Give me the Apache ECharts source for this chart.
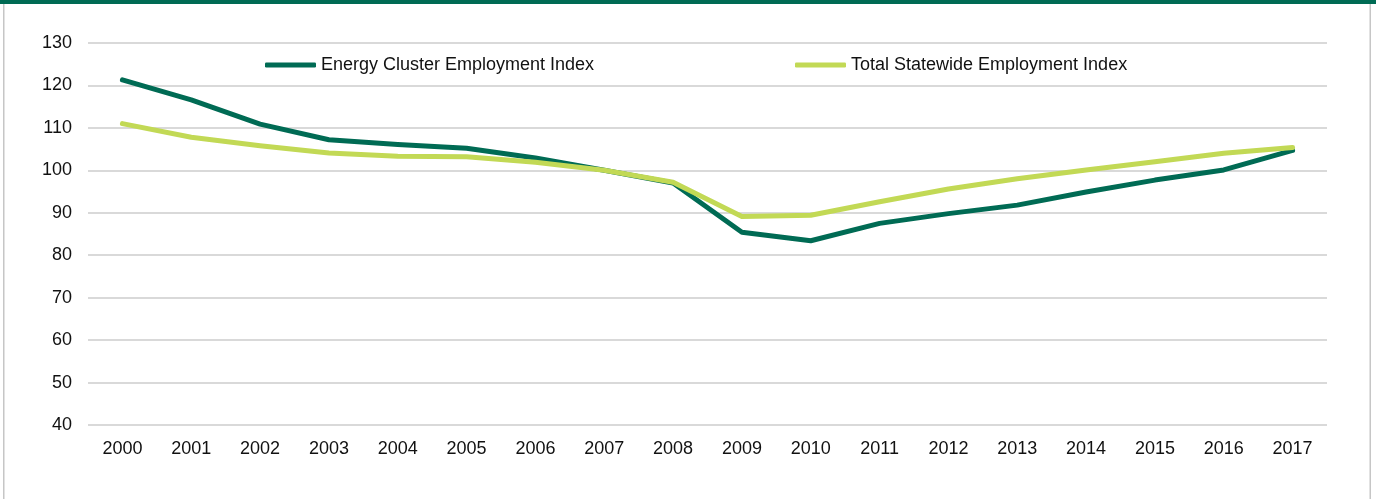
<!DOCTYPE html>
<html>
<head>
<meta charset="utf-8">
<script src="https://cdn.jsdelivr.net/npm/echarts@6/dist/echarts.min.js"></script>
<style>
html,body{margin:0;padding:0;background:#fff;}
#chart{width:1376px;height:499px;}
</style>
</head>
<body>
<div id="chart"></div>
<script>
const years = ['2000','2001','2002','2003','2004','2005','2006','2007','2008','2009','2010','2011','2012','2013','2014','2015','2016','2017'];
const energyIndex = [121.3,116.6,110.9,107.2,106.1,105.2,102.9,100,97,85.4,83.4,87.5,89.8,91.8,94.9,97.7,100.1,104.7];
const statewideIndex = [111,107.8,105.8,104.1,103.3,103.2,101.9,100,97.2,89.1,89.4,92.6,95.6,98,100.1,102,104,105.4];
const yTicks = {min:40, max:130, interval:10};

const darkGreen = '#006B54';
const lightGreen = '#C2D955';
const chart = echarts.init(document.getElementById('chart'), null, {renderer:'canvas'});
const legendText = {fontFamily:'Liberation Sans, Arial', fontSize:18, color:'#111'};
chart.setOption({
  animation:false,
  backgroundColor:'#fff',
  graphic:[
    {type:'rect', shape:{x:0,y:0,width:1376,height:4}, style:{fill:darkGreen}, silent:true},
    {type:'rect', shape:{x:3,y:4,width:1.5,height:495}, style:{fill:'#c6c6c6'}, silent:true},
    {type:'rect', shape:{x:1369.5,y:4,width:1.5,height:495}, style:{fill:'#c6c6c6'}, silent:true}
  ],
  grid:{left:88, right:49, top:43, bottom:74, containLabel:false},
  legend:[
    {data:[{name:'Energy Cluster Employment Index'}], left:265, top:56, itemWidth:51, itemHeight:5, icon:'roundRect', textStyle:legendText, padding:0},
    {data:[{name:'Total Statewide Employment Index'}], left:795, top:56, itemWidth:51, itemHeight:5, icon:'roundRect', textStyle:legendText, padding:0}
  ],
  xAxis:{
    type:'category', data:years, boundaryGap:true,
    axisLine:{show:false}, axisTick:{show:false},
    axisLabel:{fontFamily:'Liberation Sans, Arial', fontSize:18, color:'#111', margin:15}
  },
  yAxis:{
    type:'value', min:yTicks.min, max:yTicks.max, interval:yTicks.interval,
    axisLine:{show:false}, axisTick:{show:false},
    axisLabel:{fontFamily:'Liberation Sans, Arial', fontSize:18, color:'#111', margin:16},
    splitLine:{lineStyle:{color:'#d9d9d9', width:2}}
  },
  series:[
    {name:'Energy Cluster Employment Index', type:'line', data:energyIndex, symbol:'none', smooth:false,
     lineStyle:{color:darkGreen, width:5, cap:'round', join:'round'}, itemStyle:{color:darkGreen}, z:2},
    {name:'Total Statewide Employment Index', type:'line', data:statewideIndex, symbol:'none', smooth:false,
     lineStyle:{color:lightGreen, width:5, cap:'round', join:'round'}, itemStyle:{color:lightGreen}, z:3}
  ]
});
</script>
</body>
</html>
